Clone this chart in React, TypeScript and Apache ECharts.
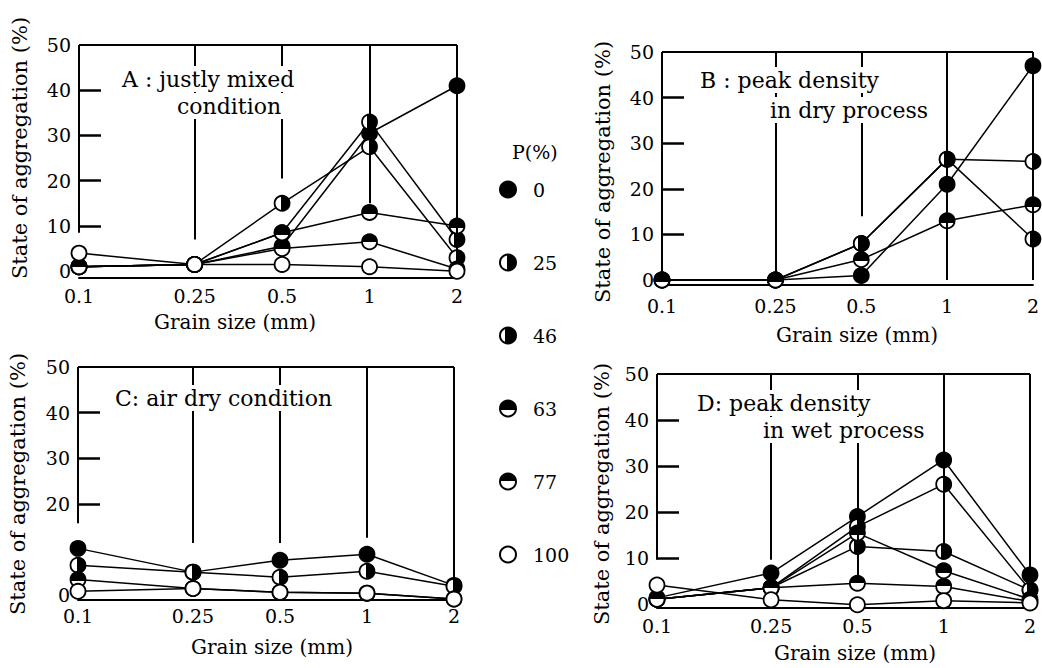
import React, { useEffect, useRef } from 'react';
import * as echarts from 'echarts';

// ---------- data ----------
const GRAIN_SIZES = [0.1, 0.25, 0.5, 1, 2];
const GRAIN_LABELS = ['0.1', '0.25', '0.5', '1', '2'];
const P_LEVELS = ['0', '25', '46', '63', '77', '100'];

const Y_LABELS_FULL = [0, 10, 20, 30, 40, 50];
const Y_LABELS_C = [0, 20, 30, 40, 50];
const Y_TICKS_FULL = [10, 20, 30, 40];
const Y_TICKS_C = [20, 30, 40];

// Panel A: justly mixed condition
const A_P0 = [1, 1.5, 5.5, 30.5, 41];
const A_P25 = [1, 1.5, 15, 27.5, 3];
const A_P46 = [1, 1.5, 8.5, 33, 7];
const A_P63 = [1, 1.5, 8.5, 13, 10];
const A_P77 = [1, 1.5, 5, 6.5, 0.5];
const A_P100 = [4, 1.5, 1.5, 1, 0];
const A_VLINE_END = [8.5, 7, 20.5, 15, 3];

// Panel B: peak density in dry process
const B_P0 = [0, 0, 1, 21, 47];
const B_P25 = [0, 0, 8, 26.5, 26];
const B_P46 = [0, 0, 8, 26.5, 9];
const B_P63 = [0, 0, 4.5, 13, 16.5];
const B_VLINE_END = [0, 0, 14, 0, 0];

// Panel C: air dry condition
const C_P0 = [10.3, 5.1, 7.7, 9.0, 2.2];
const C_P25 = [6.6, 5.1, 4.0, 5.3, 2.0];
const C_P63 = [3.5, 1.5, 0.7, 0.5, -0.8];
const C_P100 = [0.9, 1.5, 0.7, 0.5, -0.8];
const C_VLINE_END = [15.8, 11.5, 11.5, 12.6, 3.4];

// Panel D: peak density in wet process
const D_P0 = [1.3, 6.7, 19, 31.3, 6.3];
const D_P25 = [1, 3.5, 16.8, 26, 3];
const D_P46 = [1, 3.5, 12.5, 11.4, 3];
const D_P63 = [1, 3.5, 15.4, 7.2, 1];
const D_P77 = [1, 3.5, 4.5, 3.8, 0.5];
const D_P100 = [4.1, 0.9, -0.2, 0.7, 0.2];
const D_VLINE_END = [9.6, 9.6, 5, 11, 6.3];

const FONT = 'DejaVu Serif';
const LOG = (v: number) => Math.log10(v);

function fillFor(p: string): any {
  const h = (w: number) =>
    new echarts.graphic.LinearGradient(0, 0, 1, 0, [
      { offset: 0, color: '#fff' },
      { offset: w, color: '#fff' },
      { offset: w, color: '#000' },
      { offset: 1, color: '#000' },
    ]);
  const v = (b: number) =>
    new echarts.graphic.LinearGradient(0, 0, 0, 1, [
      { offset: 0, color: '#000' },
      { offset: b, color: '#000' },
      { offset: b, color: '#fff' },
      { offset: 1, color: '#fff' },
    ]);
  switch (p) {
    case '0':
      return '#000';
    case '25':
      return h(0.45);
    case '46':
      return h(0.3);
    case '63':
      return v(0.62);
    case '77':
      return v(0.5);
    default:
      return '#fff';
  }
}

type Panel = {
  series: (number[] | null)[];
  vEnd: number[];
  yLabels: number[];
  yTicks: number[];
  grid: any;
  yMin: number;
  xMargin: number;
};

const PANELS: Panel[] = [
  {
    series: [A_P0, A_P25, A_P46, A_P63, A_P77, A_P100],
    vEnd: A_VLINE_END,
    yLabels: Y_LABELS_FULL,
    yTicks: Y_TICKS_FULL,
    grid: { left: 79, top: 45, width: 378, height: 233 },
    yMin: -1.5,
    xMargin: 8,
  },
  {
    series: [B_P0, B_P25, B_P46, B_P63, null, null],
    vEnd: B_VLINE_END,
    yLabels: Y_LABELS_FULL,
    yTicks: Y_TICKS_FULL,
    grid: { left: 662, top: 52, width: 371, height: 233 },
    yMin: -1.1,
    xMargin: 11,
  },
  {
    series: [C_P0, C_P25, null, C_P63, null, C_P100],
    vEnd: C_VLINE_END,
    yLabels: Y_LABELS_C,
    yTicks: Y_TICKS_C,
    grid: { left: 78, top: 367, width: 376, height: 233 },
    yMin: -1,
    xMargin: 6,
  },
  {
    series: [D_P0, D_P25, D_P46, D_P63, D_P77, D_P100],
    vEnd: D_VLINE_END,
    yLabels: Y_LABELS_FULL,
    yTicks: Y_TICKS_FULL,
    grid: { left: 657, top: 374, width: 373, height: 234 },
    yMin: -0.9,
    xMargin: 8,
  },
];

function buildOption() {
  const grids: any[] = [];
  const xAxes: any[] = [];
  const yAxes: any[] = [];
  const series: any[] = [];
  const xMin = LOG(GRAIN_SIZES[0]);
  const xMax = LOG(GRAIN_SIZES[GRAIN_SIZES.length - 1]);

  PANELS.forEach((pn, i) => {
    grids.push({ ...pn.grid, containLabel: false });
    xAxes.push({
      type: 'value',
      gridIndex: i,
      min: xMin,
      max: xMax,
      axisLine: { show: true, onZero: false, lineStyle: { color: '#000', width: 2 } },
      axisTick: { show: false },
      splitLine: { show: false },
      axisLabel: {
        customValues: GRAIN_SIZES.map(LOG),
        margin: pn.xMargin,
        color: '#000',
        fontFamily: FONT,
        fontSize: 19,
        formatter: (v: number) => {
          let best = 0;
          GRAIN_SIZES.forEach((s, k) => {
            if (Math.abs(LOG(s) - v) < Math.abs(LOG(GRAIN_SIZES[best]) - v)) best = k;
          });
          return GRAIN_LABELS[best];
        },
      },
    });
    yAxes.push({
      type: 'value',
      gridIndex: i,
      min: pn.yMin,
      max: 50,
      axisLine: { show: false, onZero: false },
      splitLine: { show: false },
      axisTick: {
        show: true,
        inside: true,
        length: 22,
        customValues: pn.yTicks,
        lineStyle: { color: '#000', width: 2.5 },
      },
      axisLabel: {
        customValues: pn.yLabels,
        margin: 8,
        color: '#000',
        fontFamily: FONT,
        fontSize: 19,
      },
    });

    // frame: top line + vertical drop lines
    const mlData: any[] = [[{ coord: [xMin, 50] }, { coord: [xMax, 50] }]];
    GRAIN_SIZES.forEach((s, k) => {
      mlData.push([{ coord: [LOG(s), 50] }, { coord: [LOG(s), pn.vEnd[k]] }]);
    });
    series.push({
      type: 'line',
      name: `frame-${i}`,
      xAxisIndex: i,
      yAxisIndex: i,
      data: [[xMin, 50]],
      showSymbol: false,
      lineStyle: { opacity: 0 },
      silent: true,
      z: 1,
      markLine: {
        silent: true,
        symbol: ['none', 'none'],
        label: { show: false },
        lineStyle: { color: '#000', width: 2, type: 'solid' },
        emphasis: { disabled: true },
        data: mlData,
      },
    });

    pn.series.forEach((vals, k) => {
      if (!vals) return;
      const pts = GRAIN_SIZES.map((s, j) => [LOG(s), vals[j]]);
      series.push({
        type: 'line',
        name: `line-${i}-${P_LEVELS[k]}`,
        xAxisIndex: i,
        yAxisIndex: i,
        data: pts,
        showSymbol: false,
        symbol: 'none',
        clip: false,
        silent: true,
        z: 2,
        lineStyle: { color: '#000', width: 1.5 },
      });
    });
    pn.series.forEach((vals, k) => {
      if (!vals) return;
      const pts = GRAIN_SIZES.map((s, j) => [LOG(s), vals[j]]);
      series.push({
        type: 'scatter',
        name: P_LEVELS[k],
        xAxisIndex: i,
        yAxisIndex: i,
        data: pts,
        symbol: 'circle',
        symbolSize: 15,
        clip: false,
        silent: true,
        z: 3,
        itemStyle: {
          color: fillFor(P_LEVELS[k]),
          borderColor: '#000',
          borderWidth: 1.8,
          opacity: 1,
        },
      });
    });
  });

  const txt = (x: number, y: number, t: string, size: number, extra: any = {}) => ({
    type: 'text',
    x,
    y,
    z: 10,
    silent: true,
    ...extra,
    style: {
      text: t,
      fontFamily: FONT,
      fontSize: size,
      fill: '#000',
      align: extra.align || 'left',
      verticalAlign: 'middle',
      ...(extra.bg ? { backgroundColor: '#fff', padding: [2, 3] } : {}),
    },
  });

  const graphics: any[] = [
    // panel titles
    txt(119, 79, 'A : justly mixed', 22, { bg: true }),
    txt(174, 106, 'condition', 22, { bg: true }),
    txt(697, 80, 'B : peak density', 22, { bg: true }),
    txt(767, 110, 'in dry process', 22, { bg: true }),
    txt(112, 398, 'C: air dry condition', 22, { bg: true }),
    txt(694, 403, 'D: peak density', 22, { bg: true }),
    txt(760, 430, 'in wet process', 22, { bg: true }),
    // x-axis names
    txt(235, 322, 'Grain size (mm)', 20, { align: 'center' }),
    txt(857, 335, 'Grain size (mm)', 20, { align: 'center' }),
    txt(272, 647, 'Grain size (mm)', 20, { align: 'center' }),
    txt(855, 653, 'Grain size (mm)', 20, { align: 'center' }),
    // y-axis names
    txt(20, 148, 'State of aggregation (%)', 21, { align: 'center', rotation: Math.PI / 2 }),
    txt(603, 172, 'State of aggregation (%)', 21, { align: 'center', rotation: Math.PI / 2 }),
    txt(18, 484, 'State of aggregation (%)', 21, { align: 'center', rotation: Math.PI / 2 }),
    txt(602, 494, 'State of aggregation (%)', 21, { align: 'center', rotation: Math.PI / 2 }),
    // legend title
    txt(512, 152, 'P(%)', 19),
  ];

  return {
    animation: false,
    backgroundColor: '#fff',
    grid: grids,
    xAxis: xAxes,
    yAxis: yAxes,
    series,
    legend: {
      orient: 'vertical',
      left: 499,
      top: 180,
      itemWidth: 16,
      itemHeight: 16,
      itemGap: 54,
      padding: 0,
      selectedMode: false,
      data: P_LEVELS.map((name) => ({ name, icon: 'circle' })),
      textStyle: { fontFamily: FONT, fontSize: 19, color: '#000', padding: [0, 0, 0, 12] },
    },
    graphic: graphics,
  };
}

export default function App() {
  const ref = useRef<HTMLDivElement>(null);
  useEffect(() => {
    if (!ref.current) return;
    const chart = echarts.init(ref.current, undefined, { renderer: 'svg' });
    chart.setOption(buildOption() as any);
    return () => chart.dispose();
  }, []);
  return (
    <div
      ref={ref}
      style={{ position: 'fixed', left: 0, top: 0, width: 1042, height: 668, background: '#fff' }}
    />
  );
}
